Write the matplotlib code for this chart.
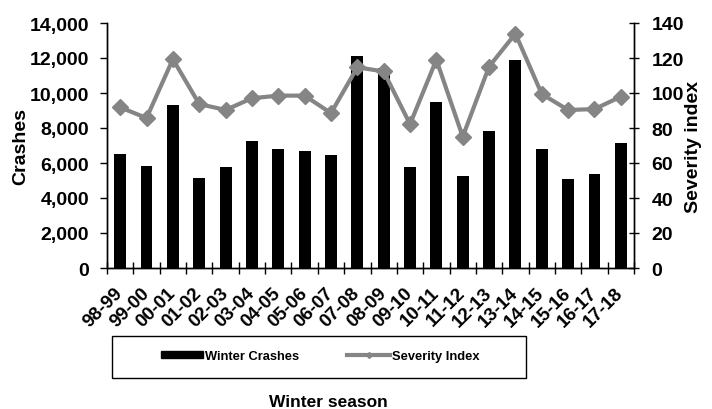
import numpy as np
import matplotlib
matplotlib.use("Agg")
import matplotlib.pyplot as plt
from matplotlib.lines import Line2D
from matplotlib.patches import Patch, Rectangle
from matplotlib.ticker import FuncFormatter, FixedLocator

plt.rcParams['font.family'] = ['Liberation Sans', 'DejaVu Sans']
plt.rcParams['font.weight'] = 'bold'

# winter seasons and values
seasons = ['98-99', '99-00', '00-01', '01-02', '02-03', '03-04', '04-05',
           '05-06', '06-07', '07-08', '08-09', '09-10', '10-11', '11-12',
           '12-13', '13-14', '14-15', '15-16', '16-17', '17-18']
crashes = [6540, 5850, 9290, 5160, 5770, 7230, 6790, 6710, 6460, 12100,
           11450, 5770, 9460, 5260, 7840, 11890, 6790, 5070, 5350, 7130]
severity = [91.8, 85.7, 119.3, 93.7, 90.3, 97.0, 98.5, 98.5, 88.5, 114.7,
            112.3, 82.2, 119.0, 75.0, 115.1, 133.9, 99.4, 90.3, 90.8, 97.9]

gray = '#858585'
x = np.arange(len(seasons))

fig = plt.figure(figsize=(7.12, 4.10), dpi=100)
ax = fig.add_axes([107/712, 1 - 269/410, (634 - 107)/712, (269 - 24)/410])
ax2 = ax.twinx()

ax.bar(x, crashes, width=0.45, color='black', zorder=2)
ax2.plot(x, severity, color=gray, lw=3, marker='D', markersize=8.5,
         markerfacecolor=gray, markeredgecolor=gray, zorder=3)

ax.set_xlim(-0.5, len(seasons) - 0.5)
ax.set_ylim(0, 14000)
ax2.set_ylim(0, 140)
ax.set_yticks(np.arange(0, 14001, 2000))
ax2.set_yticks(np.arange(0, 141, 20))
ax.yaxis.set_major_formatter(FuncFormatter(lambda v, p: f'{int(v):,}'))

# ticks between categories, labels at the centres
ax.xaxis.set_major_locator(FixedLocator(np.arange(-0.5, len(seasons), 1)))
ax.xaxis.set_minor_locator(FixedLocator(x))
ax.set_xticklabels([], minor=False)
ax.set_xticklabels(seasons, minor=True, rotation=45, ha='right', va='center',
                   rotation_mode='anchor', fontsize=13.5, fontweight='bold')
ax.tick_params(axis='x', which='major', direction='inout', length=8, width=1)
ax.tick_params(axis='x', which='minor', length=0, pad=16)
ax.tick_params(axis='y', direction='out', length=5, width=1, labelsize=14, pad=8)
ax2.tick_params(axis='y', direction='inout', length=7, width=1, labelsize=14, pad=9)

ax.spines['top'].set_visible(False)
ax2.spines['top'].set_visible(False)
for a in (ax, ax2):
    for s in a.spines.values():
        s.set_linewidth(1)

ax.set_ylabel('Crashes', fontsize=14, fontweight='bold', labelpad=0)
ax2.set_ylabel('Severity index', fontsize=14, fontweight='bold', labelpad=1)

handles = [Patch(facecolor='black', edgecolor='black'),
           Line2D([], [], color=gray, lw=3, marker='D', markersize=3)]
fig.legend(handles, ['Winter Crashes', 'Severity Index'], loc='center',
           bbox_to_anchor=(320/712, 1 - 357/410), ncol=2, frameon=False,
           fontsize=9.3, handlelength=3.3, handleheight=0.55,
           handletextpad=0.15, columnspacing=3.7)
fig.add_artist(Rectangle((112/712, 1 - 379/410), 414/712, 42/410,
                         transform=fig.transFigure, fill=False,
                         edgecolor='black', lw=1))

fig.text(328/712, 1 - 403/410, 'Winter season', ha='center', va='center',
         fontsize=12.5, fontweight='bold')

fig.savefig('out.png', dpi=100)
